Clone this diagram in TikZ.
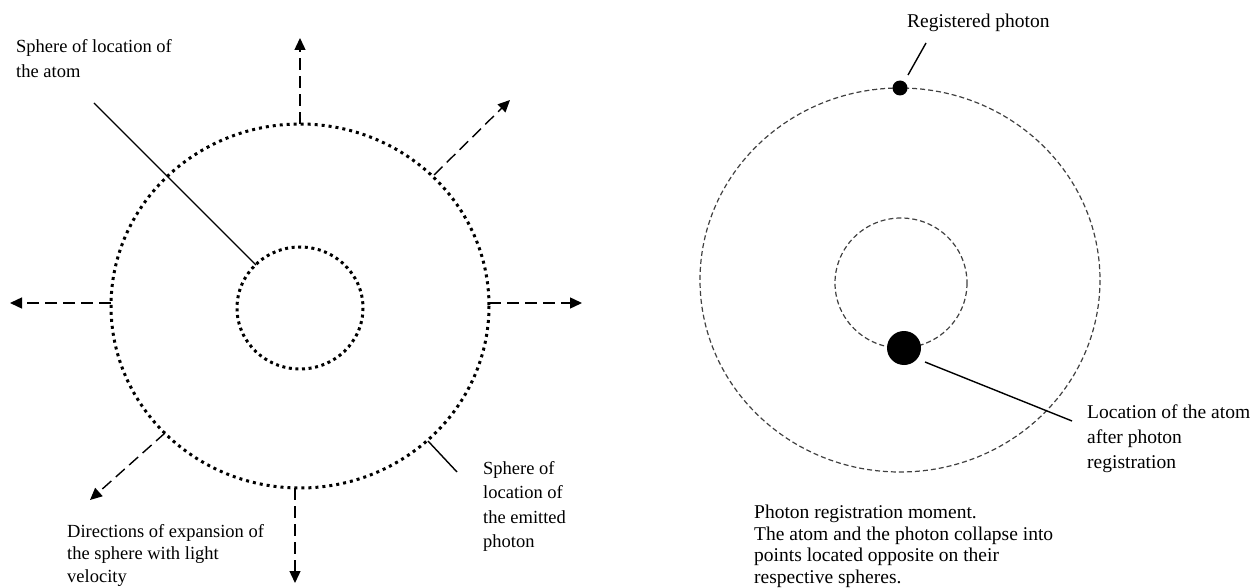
\documentclass[tikz,border=0pt]{standalone}
\usepackage{fontspec}
\setmainfont{Liberation Serif}
\usepackage{tikz}
\usetikzlibrary{arrows.meta, positioning, calc}

\begin{document}
\begin{tikzpicture}[x=1pt, y=-1pt,
  dotsphere/.style={line width=3pt, dash pattern=on 3pt off 4pt},
  dashsphere/.style={line width=1.2pt, black!75, dash pattern=on 5pt off 3pt},
  expand/.style={-{Triangle[length=12pt,width=11pt]}, line width=1.4pt, dash pattern=on 12pt off 6pt},
  leader/.style={line width=1.4pt},
  lbl/.style={anchor=north west, inner sep=0pt, align=left, font=\fontsize{18.5}{24.3}\selectfont},
  rlbl/.style={anchor=north west, inner sep=0pt, align=left, font=\fontsize{19.5}{25}\selectfont}]

\useasboundingbox (0,0) rectangle (1253,588);

% ---- Left: spheres before registration ----
\draw[dotsphere] (300,306) ellipse [x radius=189, y radius=182];
\draw[dotsphere, dash pattern=on 3pt off 3.6pt] (300,308) ellipse [x radius=63, y radius=61];

% points on the outer sphere and arrow ends
\coordinate (upS) at (300,124);   \coordinate (upE) at (300,38);
\coordinate (dnS) at (295,488);   \coordinate (dnE) at (295,583);
\coordinate (lfS) at (111,303);   \coordinate (lfE) at (10,303);
\coordinate (rtS) at (489,303);   \coordinate (rtE) at (582,303);
\coordinate (urS) at (434,175);   \coordinate (urE) at (510,100);
\coordinate (llS) at (165,433);   \coordinate (llE) at (90,500);

% Directions of expansion
\foreach \s/\e in {upS/upE, dnS/dnE, lfS/lfE, rtS/rtE, urS/urE, llS/llE}
  \draw[expand] (\s) -- (\e);

% Labels
\node[lbl] (atomlabel) at (16,39.5) {Sphere of location of\\the atom};
\node[lbl] (photonlabel) at (483,461.2) {Sphere of\\location of\\the emitted\\photon};
\node[lbl, font=\fontsize{18.5}{22.5}\selectfont] (dirlabel) at (67,524)
  {Directions of expansion of\\the sphere with light\\velocity};

% Leader lines
\coordinate (atomtip) at (94,103);   \coordinate (atomsph) at (256,265);
\coordinate (phtip) at (457,472);    \coordinate (phsph) at (428,441);
\draw[leader] (atomtip) -- (atomsph);
\draw[leader] (phsph) -- (phtip);

% ---- Right: registration moment ----
\draw[dashsphere] (900,280) ellipse [x radius=200, y radius=192];
\draw[dashsphere] (901,283) ellipse [x radius=66, y radius=65];

\fill (900,88) circle (7.5) coordinate (regdot);
\fill (904,348) circle (17) coordinate (atomdot);

\node[rlbl] (reglabel) at (907,13.5) {Registered photon};
\node[rlbl] (loclabel) at (1087,404.5) {Location of the atom\\after photon\\registration};
\node[anchor=north west, inner sep=0pt, align=left, font=\fontsize{19.5}{21.8}\selectfont]
  (momentlabel) at (754,504.5)
  {Photon registration moment.\\The atom and the photon collapse into\\points located opposite on their\\respective spheres.};

\coordinate (regtip) at (926,43);    \coordinate (regend) at (908,75);
\coordinate (loctip) at (1072,421);  \coordinate (locend) at (925,362);
\draw[leader] (regtip) -- (regend);
\draw[leader] (locend) -- (loctip);

\end{tikzpicture}
\end{document}
